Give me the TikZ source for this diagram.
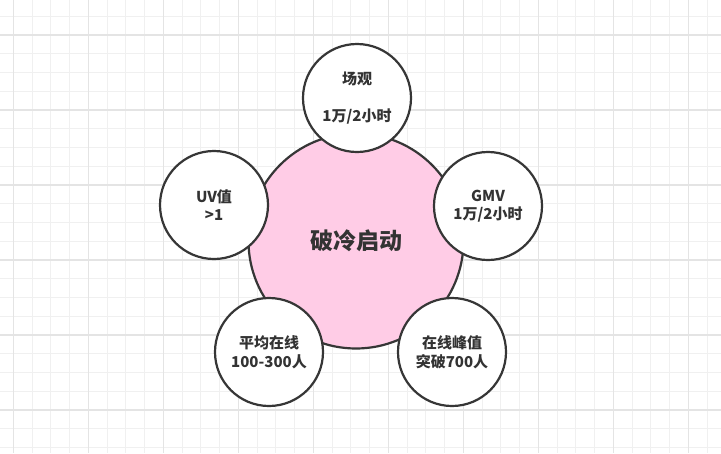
\documentclass[tikz,border=0pt]{standalone}
\usepackage{fontspec}
\setmainfont{Noto Sans CJK SC}
\definecolor{edge}{HTML}{363636}
\definecolor{txt}{HTML}{333333}
\definecolor{pinkfill}{HTML}{FFCCE6}
\definecolor{gridminor}{HTML}{F0F0F0}
\definecolor{gridmajor}{HTML}{E4E4E4}
\tikzset{
  bubble/.style={circle, draw=edge, line width=2.2pt, fill=white, minimum size=108pt,
    inner sep=0pt, text=txt, align=center, font=\bfseries\fontsize{15}{18.5}\selectfont},
  core/.style={circle, draw=edge, line width=2.2pt, fill=pinkfill, minimum size=215pt,
    inner sep=0pt, text=txt, font=\bfseries\fontsize{23}{28}\selectfont},
  minorline/.style={draw=gridminor, line width=0.8pt},
  majorline/.style={draw=gridmajor, line width=1.2pt}
}
\begin{document}
\begin{tikzpicture}[x=1pt,y=-1pt]
\useasboundingbox (0,0) rectangle (721,453);
\fill[white] (0,0) rectangle (721,453);
% grid
\foreach \i in {-1,...,38} {
  \pgfmathsetmacro{\gx}{13.3+18.75*\i}
  \draw[minorline] (\gx,0) -- (\gx,453);
}
\foreach \i in {-1,...,24} {
  \pgfmathsetmacro{\gy}{35+18.75*\i}
  \draw[minorline] (0,\gy) -- (721,\gy);
}
\foreach \i in {0,...,9} {
  \pgfmathsetmacro{\gx}{13.3+75*\i}
  \draw[majorline] (\gx,0) -- (\gx,453);
}
\foreach \i in {-1,...,6} {
  \pgfmathsetmacro{\gy}{35+75*\i}
  \draw[majorline] (0,\gy) -- (721,\gy);
}
% central circle
\node[core] (c) at (356,241) {破冷启动};
% satellites
\node[bubble] (top) at (357,98) {场观\\\mbox{}\\1万/2小时};
\node[bubble] (uv) at (214,205) {UV值\\>1};
\node[bubble] (gmv) at (488,206) {GMV\\1万/2小时};
\node[bubble] (avg) at (269,352) {平均在线\\100-300人};
\node[bubble] (peak) at (452,352) {在线峰值\\突破700人};
\end{tikzpicture}
\end{document}
